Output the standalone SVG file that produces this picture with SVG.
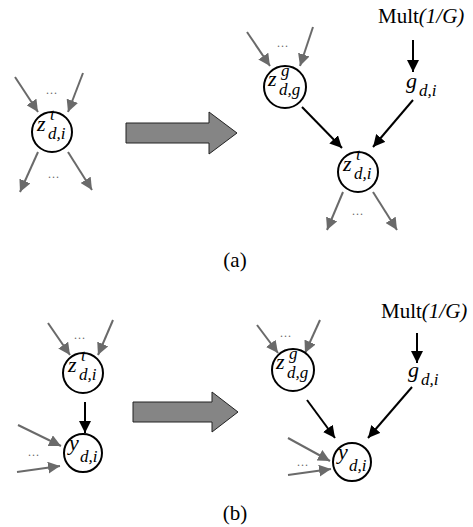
<svg xmlns="http://www.w3.org/2000/svg" width="473" height="527" viewBox="0 0 473 527" font-family="'Liberation Serif', 'DejaVu Serif', serif">
<style>
text{font-family:'Liberation Serif','DejaVu Serif',serif;fill:#000}
.v{font-style:italic;font-size:22px}
.s{font-style:italic;font-size:17px}
.lbl{font-size:21px}
.dots{font-size:12px;fill:#666;text-anchor:middle;letter-spacing:1px}
.node circle{fill:#fff;stroke:#000;stroke-width:2}
.g{stroke:#6a6a6a;stroke-width:2;fill:none;marker-end:url(#ag)}
.b{stroke:#000;stroke-width:2;fill:none;marker-end:url(#ab)}
.big{fill:#858585;stroke:#222;stroke-width:1}
</style>
<defs>
<marker id="ag" markerUnits="userSpaceOnUse" markerWidth="12" markerHeight="12" viewBox="0 0 10 10" refX="10" refY="5" orient="auto"><path d="M0,0 L10,5 L0,10 z" fill="#6a6a6a"/></marker>
<marker id="ab" markerUnits="userSpaceOnUse" markerWidth="12" markerHeight="12" viewBox="0 0 10 10" refX="10" refY="5" orient="auto"><path d="M0,0 L10,5 L0,10 z" fill="#000"/></marker>
</defs>
<g id="connectors">
<line class="g" x1="15" y1="77" x2="38" y2="112"/>
<line class="g" x1="83" y1="73" x2="68" y2="112"/>
<line class="g" x1="38" y1="152" x2="20" y2="192"/>
<line class="g" x1="68" y1="152" x2="92" y2="190"/>
<line class="g" x1="247" y1="32" x2="270" y2="66"/>
<line class="g" x1="313" y1="27" x2="300" y2="66"/>
<line class="b" x1="413" y1="40" x2="413" y2="72"/>
<line class="b" x1="302" y1="107" x2="342" y2="148"/>
<line class="b" x1="413" y1="100" x2="373" y2="147"/>
<line class="g" x1="343" y1="192" x2="327" y2="230"/>
<line class="g" x1="373" y1="192" x2="397" y2="230"/>
<line class="g" x1="48" y1="323" x2="70" y2="355"/>
<line class="g" x1="113" y1="320" x2="98" y2="355"/>
<line class="b" x1="85" y1="402" x2="85" y2="433"/>
<line class="g" x1="18" y1="425" x2="61" y2="446"/>
<line class="g" x1="17" y1="472" x2="60" y2="466"/>
<line class="g" x1="257" y1="325" x2="278" y2="353"/>
<line class="g" x1="320" y1="320" x2="305" y2="353"/>
<line class="b" x1="417" y1="333" x2="417" y2="363"/>
<line class="b" x1="307" y1="400" x2="335" y2="438"/>
<line class="b" x1="412" y1="387" x2="368" y2="438"/>
<line class="g" x1="288" y1="438" x2="330" y2="461"/>
<line class="g" x1="288" y1="475" x2="331" y2="469"/>
</g>
<g id="dots">
<text class="dots" x="52" y="94">...</text>
<text class="dots" x="54" y="178">...</text>
<text class="dots" x="283" y="47">...</text>
<text class="dots" x="358" y="215">...</text>
<text class="dots" x="80" y="339">...</text>
<text class="dots" x="34" y="456">...</text>
<text class="dots" x="286" y="337">...</text>
<text class="dots" x="303" y="466">...</text>
</g>
<g id="arrow-a"><polygon class="big" points="126,123 209,123 209,112 237,133 209,154 209,143 126,143"/></g>
<g id="arrow-b"><polygon class="big" points="133,402 212,402 212,392 238,412 212,432 212,422 133,422"/></g>
<g id="zt-a-left" class="node"><circle cx="52" cy="132" r="20"/><text class="v" x="37" y="131">z</text><text class="s" x="50" y="120">t</text><text class="s" x="48" y="139">d,i</text></g>
<g id="zg-a" class="node"><circle cx="285" cy="87" r="21"/><text class="v" x="268" y="86">z</text><text class="s" x="281" y="76">g</text><text class="s" x="279" y="95">d,g</text></g>
<g id="mult-a"><text class="lbl" x="378" y="23">Mult<tspan font-style="italic">(1/G)</tspan></text></g>
<g id="g-a"><text class="v" x="406" y="88">g</text><text class="s" x="419" y="96">d,i</text></g>
<g id="zt-a-right" class="node"><circle cx="358" cy="172" r="20"/><text class="v" x="343" y="171">z</text><text class="s" x="356" y="160">t</text><text class="s" x="354" y="179">d,i</text></g>
<g id="label-a"><text class="lbl" x="235" y="267" text-anchor="middle">(a)</text></g>
<g id="zt-b" class="node"><circle cx="83" cy="373" r="20"/><text class="v" x="68" y="372">z</text><text class="s" x="81" y="361">t</text><text class="s" x="79" y="380">d,i</text></g>
<g id="y-b-left" class="node"><circle cx="83" cy="453" r="19"/><text class="v" x="69" y="450">y</text><text class="s" x="80" y="462">d,i</text></g>
<g id="zg-b" class="node"><circle cx="293" cy="370" r="21"/><text class="v" x="276" y="369">z</text><text class="s" x="289" y="359">g</text><text class="s" x="287" y="378">d,g</text></g>
<g id="mult-b"><text class="lbl" x="381" y="318">Mult<tspan font-style="italic">(1/G)</tspan></text></g>
<g id="g-b"><text class="v" x="408" y="377">g</text><text class="s" x="421" y="385">d,i</text></g>
<g id="y-b-right" class="node"><circle cx="352" cy="462" r="19"/><text class="v" x="338" y="459">y</text><text class="s" x="349" y="471">d,i</text></g>
<g id="label-b"><text class="lbl" x="235" y="520" text-anchor="middle">(b)</text></g>
</svg>
